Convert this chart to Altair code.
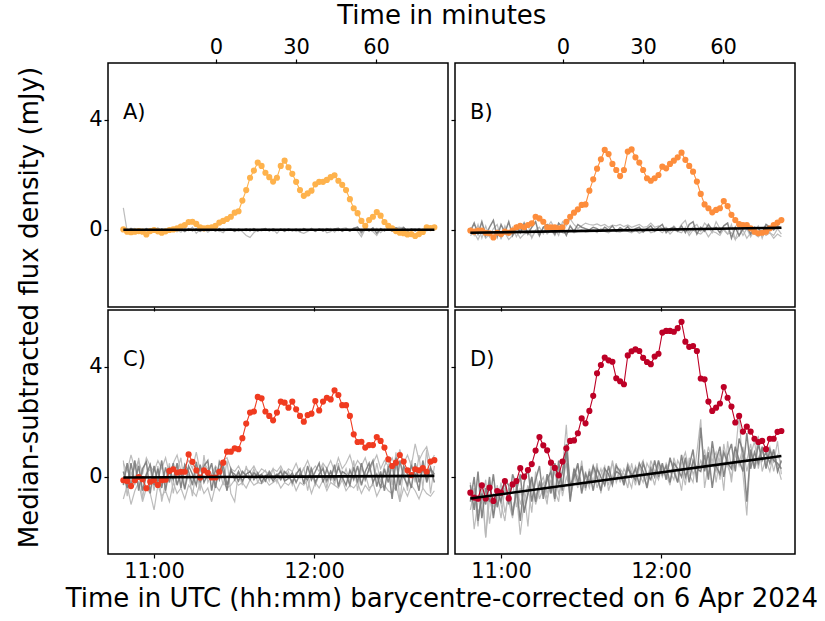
import altair as alt
import pandas as pd

FONT = "DejaVu Sans"

# --- sampling grid: minutes after 11:00 UTC -------------------------------
T_START = -11.5      # first sample (minutes after 11:00)
CADENCE = 1.44       # minutes between samples
MIN_ZERO = 23.25     # "Time in minutes" zero point (minutes after 11:00)
X_DOMAIN = [-17.25, 110.25]
Y_DOMAIN = [-2.8, 6.07]

panel_labels = ["A)", "B)", "C)", "D)"]
panel_colors = ["#feb24c", "#fd8d3c", "#f03b20", "#bd0026"]

flux_A = [0.02, -0.06, -0.08, -0.06, -0.04, -0.06, -0.16, -0.04, 0.0, -0.05,
          -0.1, -0.05, 0.0, 0.02, 0.06, 0.12, 0.18, 0.29, 0.30, 0.22,
          0.10, 0.06, 0.08, 0.10, 0.15, 0.27, 0.33, 0.40, 0.48, 0.63,
          0.68, 1.07, 1.45, 1.90, 2.16, 2.45, 2.33, 2.08, 1.92, 1.76,
          1.90, 2.33, 2.52, 2.28, 2.04, 1.75, 1.45, 1.24, 1.33, 1.43,
          1.66, 1.75, 1.75, 1.82, 1.92, 1.99, 1.79, 1.64, 1.45, 1.12,
          0.79, 0.61, 0.33, 0.15, 0.36, 0.48, 0.65, 0.52, 0.29, 0.15,
          0.06, -0.04, -0.10, -0.12, -0.16, -0.15, -0.22, -0.15, -0.07, 0.10,
          0.07, 0.10]
flux_B = [-0.02, -0.06, -0.02, -0.02, -0.10, -0.12, -0.27, -0.10, -0.15, -0.06,
          -0.10, -0.02, 0.10, 0.15, 0.10, 0.18, 0.24, 0.48, 0.42, 0.30,
          0.10, 0.10, 0.10, 0.06, 0.10, 0.30, 0.48, 0.63, 0.75, 0.91,
          0.93, 1.43, 1.84, 2.23, 2.57, 2.91, 2.76, 2.40, 2.18, 1.96,
          2.18, 2.85, 2.93, 2.64, 2.45, 2.18, 1.88, 1.79, 1.88, 2.00,
          2.30, 2.24, 2.40, 2.52, 2.64, 2.81, 2.55, 2.33, 2.12, 1.76,
          1.31, 0.93, 0.79, 0.64, 0.73, 0.79, 1.05, 0.87, 0.55, 0.36,
          0.21, 0.18, 0.18, 0.06, -0.06, -0.12, -0.10, -0.06, 0.06, 0.18,
          0.27, 0.36]
flux_C = [-0.12, -0.15, -0.33, -0.12, 0.0, -0.08, -0.41, -0.17, -0.12, -0.29,
          -0.12, -0.10, 0.22, 0.28, 0.16, 0.19, 0.19, 0.82, 0.55, 0.24,
          -0.02, 0.24, 0.15, -0.02, -0.02, 0.19, 0.52, 0.92, 0.92, 1.04,
          1.01, 1.41, 1.94, 2.34, 2.38, 2.91, 2.86, 2.38, 2.22, 2.06,
          2.34, 2.74, 2.70, 2.52, 2.74, 2.46, 2.22, 2.01, 2.25, 2.30,
          2.76, 2.42, 2.74, 2.88, 2.82, 3.15, 2.98, 2.61, 2.61, 2.22,
          1.55, 1.27, 1.28, 1.07, 1.16, 1.16, 1.45, 1.31, 1.07, 0.64,
          0.40, 0.52, 0.80, 0.56, 0.24, 0.07, 0.28, 0.24, 0.32, 0.19,
          0.56, 0.61]
flux_D = [-0.57, -0.75, -0.79, -0.30, -0.78, -0.39, -0.87, -0.51, -0.57, -0.15,
          -0.78, -0.27, -0.15, 0.32, 0.01, 0.25, 0.47, 0.96, 1.45, 1.15,
          0.97, 0.52, 0.33, 0.06, 0.56, 1.04, 1.31, 1.33, 1.59, 2.13,
          1.95, 2.40, 2.95, 3.77, 4.07, 4.34, 4.24, 4.19, 3.59, 3.48,
          3.37, 4.42, 4.57, 4.64, 4.58, 4.33, 4.18, 4.10, 4.38, 4.48,
          5.25, 5.31, 5.31, 5.28, 5.41, 5.64, 4.92, 4.73, 4.76, 4.58,
          3.58, 3.55, 2.74, 2.40, 2.52, 2.67, 3.27, 2.88, 2.56, 1.98,
          2.22, 1.65, 1.83, 1.65, 1.39, 1.27, 1.31, 1.01, 1.39, 1.39,
          1.64, 1.67]

# --- comparison (off-source) curves, grey ---------------------------------
greyA_1 = [0.8, -0.05, 0.05, -0.08, 0.03, 0.0, -0.1, 0.05, -0.02, 0.08,
           -0.05, 0.02, -0.06, 0.04, 0.0, -0.08, 0.06, -0.03, 0.1, -0.12,
           0.02, -0.05, 0.04, -0.02, 0.03, -0.06, 0.05, -0.02, 0.02, 0.04,
           -0.05, 0.02, -0.03, 0.05, -0.04, 0.0, 0.03, -0.02, 0.04, -0.05,
           0.02, 0.0, 0.05, -0.03, 0.02, -0.06, 0.03, 0.0, -0.04, 0.06,
           -0.02, 0.03, -0.05, 0.02, 0.06, -0.08, 0.04, 0.0, 0.03, -0.05,
           0.08, 0.1, -0.15, 0.05, 0.02, -0.04, 0.06, -0.1, 0.03, 0.0,
           0.05, -0.06, 0.08, 0.1, -0.04, 0.02, 0.05, -0.03, 0.02, 0.06,
           -0.02, 0.03]
greyA_2 = [0.05, -0.08, 0.02, 0.06, -0.05, -0.1, 0.04, -0.03, 0.05, -0.06,
           0.03, -0.04, 0.08, -0.02, -0.07, 0.04, -0.05, 0.02, -0.03, 0.06,
           -0.04, 0.03, -0.08, 0.02, 0.05, -0.03, -0.1, 0.04, 0.0, -0.05,
           0.03, -0.06, -0.2, -0.27, -0.1, 0.02, -0.04, 0.05, -0.03, 0.02,
           -0.12, 0.04, -0.02, 0.03, -0.05, 0.02, -0.08, -0.12, -0.05, 0.03,
           -0.04, 0.02, 0.05, -0.1, -0.06, 0.03, -0.03, 0.05, 0.08, -0.02,
           0.06, -0.05, -0.25, 0.04, 0.02, -0.06, -0.2, 0.05, -0.03, 0.04,
           -0.05, 0.08, 0.1, -0.06, 0.03, -0.02, 0.05, -0.04, 0.02, -0.03,
           0.04, -0.02]
greyA_3 = [-0.05, -0.06, 0.06, -0.03, 0.02, -0.04, 0.05, -0.02, 0.04, -0.05,
           0.03, -0.02, 0.05, -0.04, 0.02, 0.04, -0.06, 0.05, -0.03, 0.02,
           -0.05, 0.04, -0.02, 0.03, -0.04, 0.05, -0.03, 0.02, 0.04, -0.05,
           0.03, -0.02, 0.04, -0.03, 0.05, -0.04, 0.02, 0.05, -0.03, 0.04,
           -0.02, 0.03, -0.05, 0.04, -0.02, 0.03, -0.04, 0.05, -0.02, 0.03,
           -0.05, 0.04, -0.03, 0.05, -0.02, 0.04, 0.06, -0.05, 0.03, -0.04,
           0.05, 0.1, -0.08, 0.06, -0.04, 0.08, -0.12, 0.05, -0.03, 0.06,
           -0.04, 0.08, -0.05, 0.09, -0.06, 0.04, -0.03, 0.05, -0.04, 0.03,
           0.05, -0.02]

greyB_1 = [-0.05, 0.25, -0.15, 0.3, -0.2, 0.1, 0.35, -0.25, 0.2, -0.1,
           0.3, -0.2, 0.15, -0.1, 0.25, -0.15, 0.1, 0.3, -0.2, 0.1,
           0.2, 0.05, -0.15, 0.25, 0.1, -0.2, 0.15, -0.05, 0.2, 0.1,
           0.05, 0.0, 0.1, 0.05, -0.05, 0.1, 0.0, 0.15, -0.05, 0.08,
           0.0, 0.12, -0.05, 0.05, 0.1, -0.08, 0.05, 0.15, -0.05, 0.1,
           0.2, -0.1, 0.05, 0.1, -0.05, 0.15, -0.1, 0.2, 0.3, -0.15,
           0.1, -0.05, 0.2, 0.0, 0.1, -0.1, 0.15, 0.25, -0.3, 0.1,
           -0.2, 0.05, 0.15, -0.15, 0.1, 0.05, -0.1, 0.2, 0.1, 0.0,
           0.15, 0.05]
greyB_2 = [0.1, -0.2, 0.2, -0.3, 0.15, -0.25, 0.05, 0.2, -0.3, 0.15,
           -0.2, 0.1, -0.25, 0.05, -0.1, 0.2, -0.3, 0.0, 0.1, -0.15,
           0.1, 0.3, 0.05, -0.2, 0.3, 0.15, 0.4, 0.2, 0.05, 0.15,
           0.25, 0.2, 0.18, 0.22, 0.15, 0.2, 0.1, 0.18, 0.15, 0.2,
           0.12, 0.18, 0.1, 0.15, 0.2, 0.1, 0.12, 0.25, 0.1, 0.15,
           0.05, 0.1, -0.05, 0.15, 0.0, 0.2, 0.35, -0.1, 0.1, 0.2,
           -0.05, 0.25, 0.1, -0.1, 0.3, 0.05, 0.0, -0.15, 0.2, -0.35,
           0.1, -0.2, 0.05, -0.25, 0.0, 0.15, -0.3, 0.1, -0.1, -0.2,
           0.05, -0.15]
greyB_3 = [-0.2, -0.1, -0.35, -0.05, -0.3, -0.15, -0.25, 0.0, -0.3, -0.1,
           -0.35, -0.2, -0.05, -0.3, -0.15, -0.1, -0.25, -0.05, -0.2, 0.1,
           -0.15, 0.0, -0.2, 0.1, -0.1, -0.15, 0.0, -0.1, -0.05, 0.0,
           -0.08, -0.05, 0.0, -0.1, 0.05, -0.05, -0.1, 0.0, -0.05, -0.08,
           0.0, -0.05, -0.1, 0.0, -0.12, -0.05, 0.05, -0.1, -0.05, 0.0,
           -0.1, 0.05, -0.15, 0.0, -0.05, -0.1, 0.1, -0.2, 0.0, -0.1,
           -0.15, 0.0, -0.25, -0.05, -0.1, -0.2, 0.05, -0.15, -0.1, -0.35,
           -0.2, 0.0, -0.3, -0.1, -0.15, -0.25, -0.05, -0.2, -0.1, -0.3,
           -0.15, -0.25]

greyC_1 = [-0.3, 0.5, -0.4, 0.6, -0.5, 0.3, 0.55, -0.6, 0.4, -0.2,
           0.6, -0.5, 0.3, -0.1, 0.5, -0.4, 0.45, 0.2, -0.3, 0.55,
           -0.2, 0.4, 0.6, -0.5, 0.3, -0.1, 0.45, -0.3, 0.2, 0.1,
           -0.15, 0.2, 0.05, -0.1, 0.15, 0.0, 0.1, -0.15, 0.2, -0.05,
           0.1, -0.1, 0.2, 0.05, -0.2, 0.1, 0.3, -0.25, 0.4, -0.1,
           0.2, 0.5, -0.2, 0.3, -0.1, 0.45, -0.35, 0.2, 0.1, -0.3,
           0.35, -0.2, 0.5, -0.1, 0.3, 0.6, -0.35, 0.2, -0.5, 0.4,
           -0.8, 0.7, -0.3, 0.4, 0.1, -0.4, 0.5, -0.2, 0.3, -0.1,
           0.35, -0.2]
greyC_2 = [0.6, -0.7, 0.2, -0.3, 0.7, -0.8, 0.1, 0.3, -0.5, 0.4,
           -0.9, -0.2, 0.5, -0.6, 0.2, 0.7, -0.4, 0.1, -0.7, 0.3,
           -0.5, 0.8, -0.2, 0.1, -0.4, 0.3, -0.3, 0.6, -0.6, -0.9,
           0.2, -0.3, 0.4, -0.1, 0.3, -0.2, 0.1, 0.25, -0.15, 0.3,
           -0.2, 0.3, -0.1, 0.2, -0.3, 0.15, -0.05, 0.35, -0.5, 0.2,
           -0.3, 0.1, 0.4, -0.4, 0.25, -0.3, 0.5, -0.1, 0.3, -0.2,
           0.6, -0.5, 0.3, 0.1, -0.4, -0.3, 0.5, -0.2, 0.4, 0.7,
           -0.3, 0.9, -0.9, 0.3, -0.5, 0.6, -0.2, 0.8, -0.4, 1.0,
           -0.6, 0.4]
greyC_3 = [-0.8, -0.3, -1.0, -0.5, -0.2, -0.9, -0.4, -0.6, -1.2, -0.3,
           -0.7, -0.5, -0.9, -0.2, -0.6, -0.4, -0.8, -0.3, -0.5, -0.7,
           -0.2, -0.6, -0.4, -0.9, -0.3, -0.5, -0.2, -0.4, -0.3, -0.1,
           -0.3, -0.2, -0.4, -0.1, -0.3, -0.2, -0.25, -0.1, -0.3, -0.2,
           -0.1, -0.4, -0.2, -0.3, -0.1, -0.5, -0.2, -0.3, -0.1, -0.6,
           -0.2, -0.4, -0.1, -0.5, -0.2, -0.3, -0.4, -0.1, -0.5, -0.3,
           -0.4, -0.2, -0.6, -0.3, -0.5, -0.2, -0.7, -0.4, -0.3, -0.5,
           -0.6, -0.3, -0.9, -0.4, -0.7, -0.3, -0.5, -0.8, -0.4, -0.6,
           -0.7, -0.5]
greyC_4 = [0.5, 0.2, 0.8, 0.3, 0.6, 0.1, 0.7, 0.4, 0.2, 0.6,
           0.3, 0.7, 0.1, 0.5, 0.8, 0.2, 0.4, 0.6, 0.3, 0.9,
           0.2, 0.5, 0.3, 0.1, 0.4, 0.2, 0.6, 0.7, 0.3, 0.2,
           0.4, 0.1, 0.3, 0.2, 0.4, 0.1, 0.3, 0.2, 0.1, 0.3,
           0.2, 0.4, 0.1, 0.3, 0.2, 0.5, 0.1, 0.3, 0.6, 0.2,
           0.4, 0.2, 0.5, 0.3, 0.6, 0.2, 0.7, 0.3, 0.5, 0.8,
           0.3, 0.6, 0.4, 0.7, 0.2, 0.5, 0.8, 0.3, 0.6, 0.4,
           0.7, 0.3, 1.0, 0.5, 0.8, 0.4, 1.2, 0.6, 0.9, 1.1,
           0.5, 0.8]
greyC_5 = [0.2, -0.4, 0.5, -0.2, 0.4, -0.5, 0.1, 0.45, -0.3, 0.3,
           -0.4, 0.35, -0.2, 0.5, -0.3, 0.2, -0.45, 0.4, 0.1, -0.3,
           0.45, -0.2, 0.1, 0.5, -0.4, 0.55, 0.2, -0.5, 0.3, -0.1,
           0.2, -0.15, 0.1, 0.2, -0.1, 0.15, -0.2, 0.05, 0.1, -0.15,
           0.05, 0.2, -0.15, -0.05, 0.15, -0.2, 0.1, 0.0, -0.1, 0.3,
           -0.2, 0.1, 0.3, -0.15, 0.2, -0.1, 0.35, 0.0, -0.3, 0.25,
           -0.1, 0.4, -0.3, 0.2, 0.5, -0.2, 0.1, -0.4, 0.3, -0.2,
           0.5, -0.5, 0.6, 0.0, -0.3, 0.4, 0.1, -0.5, 0.6, -0.2,
           0.3, 0.1]

greyD_1 = [-0.3, -1.2, 0.2, -1.5, -0.4, -0.9, 0.1, -1.1, -0.5, -0.2,
           -1.0, 0.1, -0.3, -1.6, -0.2, 0.3, -0.9, -0.1, 0.4, -0.8,
           0.1, -0.6, 0.5, -0.3, 0.2, 0.9, -0.9, 0.3, -0.2, 0.4,
           -0.4, 0.2, -0.5, 0.3, 0.0, -0.3, 0.4, -0.2, 0.2, 0.1,
           -0.2, 0.4, 0.0, 0.3, -0.3, 0.5, 0.1, -0.1, 0.6, 0.0,
           0.5, -0.1, 0.7, 0.2, -0.2, 0.8, 0.0, 0.4, 1.0, -0.2,
           1.8, 0.2, 0.9, -0.4, 0.6, 1.1, 0.0, 0.8, 1.2, 0.2,
           1.4, 0.9, -0.9, 1.0, 0.3, 1.2, 0.6, 0.9, 0.5, 1.0,
           0.2, 0.6]
greyD_2 = [-1.2, -0.5, -1.8, -0.2, -2.2, -0.8, -1.4, -0.3, -1.0, -1.6,
           -0.4, -1.2, -0.6, -2.1, -0.9, -0.3, -1.3, 0.2, -0.8, -0.4,
           -1.0, 0.5, -0.5, -0.9, 0.3, 1.9, -0.6, 0.1, -0.4, 0.6,
           -0.5, 0.3, -0.2, 0.5, -0.6, 0.2, -0.3, 0.6, -0.1, 0.3,
           0.1, -0.4, 0.5, -0.2, 0.4, 0.0, -0.3, 0.6, 0.2, -0.1,
           0.4, 0.1, -0.3, 0.7, 0.2, -0.5, 0.6, 0.1, -0.2, 0.9,
           2.1, -0.4, 0.5, 1.0, -0.2, 0.7, -0.5, 1.3, 0.3, 0.8,
           2.3, 0.1, -1.4, 0.9, 0.4, 1.5, 0.2, 0.7, 1.1, 0.5,
           1.3, 0.1]
greyD_3 = [-0.2, -1.9, -0.9, -0.5, -2.2, -0.1, -1.1, -0.7, -1.5, -0.4,
           -0.9, -1.5, -0.2, -1.0, -0.5, -1.8, -0.1, -0.7, -0.3, 0.0,
           -0.6, -0.1, -0.9, 0.4, -0.7, 0.0, -0.4, 0.3, 0.0, -0.5,
           0.2, -0.3, 0.3, -0.4, 0.1, 0.4, -0.5, 0.0, 0.5, -0.2,
           0.3, 0.0, -0.4, 0.4, 0.1, -0.2, 0.5, 0.2, -0.3, 0.4,
           0.0, 0.5, 0.2, -0.1, 0.6, 0.3, -0.3, 0.7, 0.1, 0.4,
           0.3, 1.0, 0.1, 0.6, 0.9, -0.1, 1.2, 0.4, 0.0, 0.8,
           0.5, 1.1, 0.2, 0.8, 1.3, 0.3, 1.0, 0.6, 0.2, 0.9,
           0.4, -0.1]
greyD_4 = [-0.8, -0.4, -1.3, -0.9, -0.1, -1.7, -0.6, -1.0, -0.2, -1.3,
           -0.7, -0.2, -1.1, -0.4, -1.2, -0.6, 0.0, -1.0, -0.5, -0.2,
           -0.8, -0.3, 0.2, -0.6, -0.2, 0.5, -0.8, -0.1, 0.4, -0.3,
           0.0, -0.4, 0.4, -0.1, 0.3, -0.3, 0.1, 0.5, -0.2, 0.2,
           -0.1, 0.5, 0.2, -0.3, 0.3, 0.6, -0.1, 0.4, 0.1, 0.5,
           0.3, 0.0, 0.6, 0.4, -0.2, 0.5, 0.9, 0.2, 0.5, 0.1,
           0.6, 0.3, 1.1, 0.5, 0.2, 0.9, 0.4, 0.7, -0.2, 1.0,
           0.4, 0.8, 0.6, 1.2, 0.3, 0.7, 1.0, 0.4, 0.9, 0.2,
           0.8, 0.5]
greyD_5 = [-0.9, 0.0, -1.6, -0.6, -1.0, 0.0, -1.5, -0.5, -0.9, -0.1,
           -0.3, -1.4, -0.5, 0.1, -1.3, -0.6, 0.0, -0.9, -0.2, -0.6,
           -0.1, 0.2, -0.8, 0.6, -0.5, 1.2, -0.3, 0.0, 0.5, -0.6,
           0.1, -0.2, 0.4, 0.0, -0.5, 0.3, 0.1, -0.3, 0.4, 0.2,
           -0.3, 0.3, 0.1, -0.1, 0.5, 0.2, -0.4, 0.3, 0.0, 0.6,
           0.1, 0.4, -0.2, 0.5, 0.3, 0.0, 0.7, -0.2, 0.6, 0.3,
           0.2, 0.8, -0.1, 1.3, 0.4, 0.1, 0.9, 0.5, 0.3, 1.1,
           0.6, 0.2, 1.6, 0.3, 0.9, 0.5, 1.1, 0.3, 1.0, 0.6,
           0.5, 0.3]

# (values, is_dark)
greys = [
    [(greyA_1, False), (greyA_2, False), (greyA_3, True)],
    [(greyB_2, False), (greyB_3, False), (greyB_1, True)],
    [(greyC_2, False), (greyC_3, False), (greyC_4, False), (greyC_1, True), (greyC_5, True)],
    [(greyD_2, False), (greyD_3, False), (greyD_4, False), (greyD_1, True), (greyD_5, True)],
]
fluxes = [flux_A, flux_B, flux_C, flux_D]

# linear baseline fit (start value, end value)
fit_start = [0.01, -0.10, -0.02, -0.78]
fit_end = [0.01, 0.08, 0.04, 0.76]


def sample_times(n):
    return [T_START + CADENCE * i for i in range(n)]


def panel(i, top_labels, top_axis_on, bottom_labels, left_labels):
    flux = fluxes[i]
    t = sample_times(len(flux))
    df = pd.DataFrame({"t": t, "t_rel": [x - MIN_ZERO for x in t], "flux": flux})

    rows = []
    for k, (vals, dark) in enumerate(greys[i]):
        for a, v in zip(sample_times(len(vals)), vals):
            rows.append({"t": a, "v": v, "line": k, "shade": "dark" if dark else "light"})
    gdf = pd.DataFrame(rows)
    fdf = pd.DataFrame({"t": [t[0], t[-1]], "v": [fit_start[i], fit_end[i]]})

    xs = alt.Scale(domain=X_DOMAIN, nice=False, zero=False)
    xs_rel = alt.Scale(domain=[X_DOMAIN[0] - MIN_ZERO, X_DOMAIN[1] - MIN_ZERO], nice=False, zero=False)
    ys = alt.Scale(domain=Y_DOMAIN, nice=False, zero=False)

    common = dict(ticks=True, tickSize=4, tickColor="black", tickWidth=1.2, domain=False,
                  grid=False, title=None, labelFont=FONT, labelFontSize=21,
                  labelColor="black", labelPadding=2, labelFlush=False)
    bottom_axis = alt.Axis(orient="bottom", values=[0, 60],
                           labelExpr="(11 + floor(datum.value / 60)) + ':00'",
                           labels=bottom_labels, **common)
    left_axis = alt.Axis(orient="left", values=[0, 4], labels=left_labels, **common)
    top_axis = alt.Axis(orient="top", values=[0, 30, 60], labels=top_labels, **common) if top_axis_on else None

    x = alt.X("t:Q", scale=xs, axis=bottom_axis)
    y = alt.Y("v:Q", scale=ys, axis=left_axis)

    light = alt.Chart(gdf).transform_filter(alt.datum.shade == "light").mark_line(
        color="#b8b8b8", strokeWidth=1.2, opacity=0.95, clip=True
    ).encode(x=x, y=y, detail="line:N")
    dark = alt.Chart(gdf).transform_filter(alt.datum.shade == "dark").mark_line(
        color="#7a7a7a", strokeWidth=1.5, opacity=0.9, clip=True
    ).encode(x=x, y=y, detail="line:N")
    curve = alt.Chart(df).mark_line(color=panel_colors[i], strokeWidth=1.1).encode(
        x=x, y=alt.Y("flux:Q", scale=ys, axis=left_axis))
    label = alt.Chart(pd.DataFrame({"lab": [panel_labels[i]]})).mark_text(
        align="left", baseline="middle", font=FONT, fontSize=21, color="black"
    ).encode(x=alt.value(15), y=alt.value(50), text="lab:N")
    inner = alt.layer(light, dark, curve, label)

    pts = alt.Chart(df).mark_circle(color=panel_colors[i], size=38, opacity=1).encode(
        x=alt.X("t_rel:Q", scale=xs_rel, axis=top_axis),
        y=alt.Y("flux:Q", scale=ys, axis=left_axis))
    fit = alt.Chart(fdf).mark_line(color="black", strokeWidth=2.6).encode(
        x=alt.X("t:Q", scale=xs, axis=None), y=alt.Y("v:Q", scale=ys, axis=left_axis))

    return alt.layer(inner, pts, fit).resolve_scale(x="independent").properties(width=340, height=244)


A = panel(0, True, True, False, True)
B = panel(1, True, True, False, False)
C = panel(2, False, False, True, True)
D = panel(3, False, False, True, False)

title_style = dict(font=FONT, fontSize=26, fontWeight="normal", color="black", anchor="middle")
grid = alt.concat(A, B, C, D, columns=2, spacing={"row": 3, "column": 7}, bounds="flush",
                  title=alt.TitleParams("Time in minutes", orient="top", offset=6, **title_style))
wrap_b = alt.vconcat(grid, title=alt.TitleParams(
    "Time in UTC (hh:mm) barycentre-corrected on 6 Apr 2024", orient="bottom", offset=4, **title_style))
chart = alt.hconcat(wrap_b, title=alt.TitleParams(
    "Median-subtracted flux density (mJy)", orient="left", offset=23, **title_style))

chart = chart.properties(
    padding={"left": 16, "top": 3, "right": 5, "bottom": 5}, background="white"
).configure_view(stroke="black", strokeWidth=1.5)

chart.save("out.html", embed_options={"renderer": "svg", "actions": False})
